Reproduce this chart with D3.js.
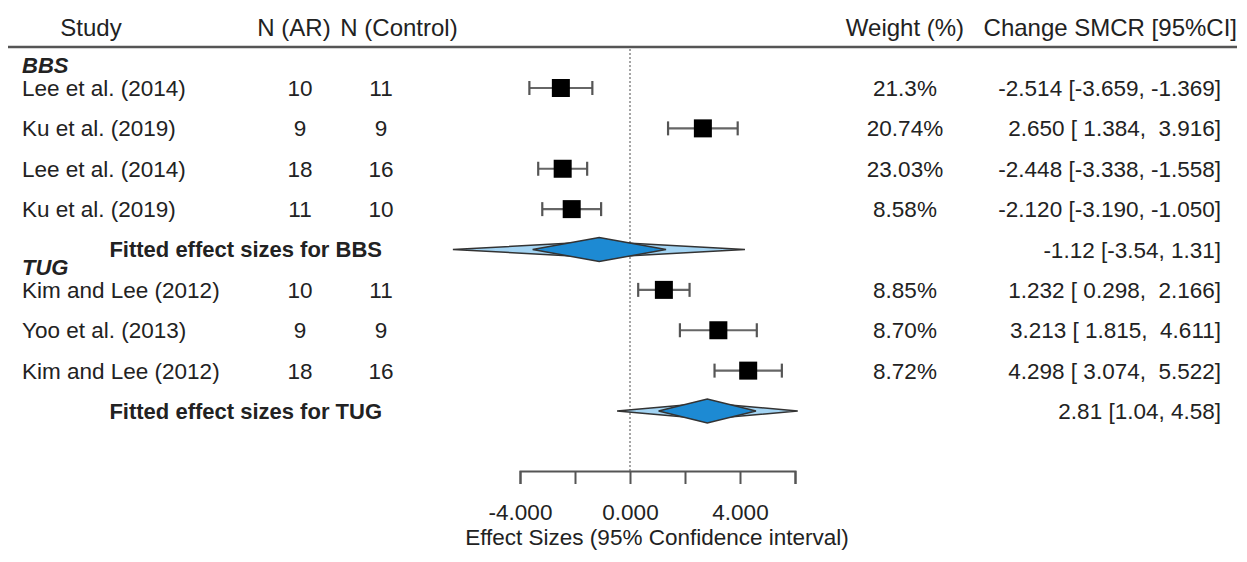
<!DOCTYPE html>
<head>
    <meta charset="utf-8">
    <title>Forest Plot</title>
    <script type="text/javascript" src="https://d3js.org/d3.v7.min.js"></script>
    <style>
        body { margin: 0; background: #fff; }
        text { font-family: "Liberation Sans", Arial, sans-serif; fill: #222; white-space: pre; }
    </style>
</head>
<body>
    <div id="container"></div>

<script>
    //-----------------------------DATA-----------------------------//
    const studies   = ["Lee et al. (2014)", "Ku et al. (2019)", "Lee et al. (2014)", "Ku et al. (2019)",
                       "Kim and Lee (2012)", "Yoo et al. (2013)", "Kim and Lee (2012)"];
    const groups    = ["BBS", "BBS", "BBS", "BBS", "TUG", "TUG", "TUG"];
    const nAR       = [10, 9, 18, 11, 10, 9, 18];
    const nControl  = [11, 9, 16, 10, 11, 9, 16];
    const estimates = [-2.514, 2.650, -2.448, -2.120, 1.232, 3.213, 4.298];
    const ciLower   = [-3.659, 1.384, -3.338, -3.190, 0.298, 1.815, 3.074];
    const ciUpper   = [-1.369, 3.916, -1.558, -1.050, 2.166, 4.611, 5.522];
    const weights   = ["21.3%", "20.74%", "23.03%", "8.58%", "8.85%", "8.70%", "8.72%"];

    // fitted (random effects) per subgroup
    const pooledGroups = ["BBS", "TUG"];
    const pooledEst    = [-1.12, 2.81];
    const pooledLower  = [-3.54, 1.04];
    const pooledUpper  = [1.31, 4.58];
    const predLower    = [-6.44, -0.47];
    const predUpper    = [4.18, 6.10];

    const xTicks = [-4, -2, 0, 2, 4, 6];

    //-----------------------------SVG------------------------------//
    const width = 1247;
    const height = 562;
    const bodySize = "22.5px";

    const svg = d3.select("div#container").append("svg")
        .attr("width", width)
        .attr("height", height);

    // row order: each group's studies, then its fitted line
    const rows = [];
    pooledGroups.forEach(function(g, gi) {
        groups.forEach(function(sg, i) {
            if (sg === g) rows.push({type: "study", i: i});
        });
        rows.push({type: "pooled", i: gi});
    });

    //----------------------------SCALES----------------------------//
    const xScale = d3.scaleLinear().domain([-4, 6]).range([520, 795]);
    const yScale = d3.scaleLinear().domain([0, rows.length - 1]).range([88, 411]);

    const fmt3 = function(v) { return v.toFixed(3); };
    const pad3 = function(v) { return v < 0 ? v.toFixed(3) : " " + v.toFixed(3); };

    //---------------------------HEADER-----------------------------//
    const header = svg.append("g").style("font-size", "24px");
    header.append("text").attr("x", 91).attr("y", 27).attr("dy", "0.36em").attr("text-anchor", "middle").text("Study");
    header.append("text").attr("x", 294).attr("y", 27).attr("dy", "0.36em").attr("text-anchor", "middle").text("N (AR)");
    header.append("text").attr("x", 399).attr("y", 27).attr("dy", "0.36em").attr("text-anchor", "middle").text("N (Control)");
    header.append("text").attr("x", 905).attr("y", 27).attr("dy", "0.36em").attr("text-anchor", "middle").text("Weight (%)");
    header.append("text").attr("x", 1237).attr("y", 27).attr("dy", "0.36em").attr("text-anchor", "end").text("Change SMCR [95%CI]");

    svg.append("line")
        .attr("x1", 8).attr("x2", 1237)
        .attr("y1", 47).attr("y2", 47)
        .attr("stroke", "#555").attr("stroke-width", 2.5);

    //--------------------------ZERO LINE---------------------------//
    svg.append("line")
        .attr("x1", xScale(0)).attr("x2", xScale(0))
        .attr("y1", 49).attr("y2", 471)
        .attr("stroke", "#888").attr("stroke-width", 1.5)
        .attr("stroke-dasharray", "2,2");

    //----------------------------AXIS------------------------------//
    const xaxis = d3.axisBottom(xScale)
        .tickValues(xTicks)
        .tickSizeInner(13)
        .tickSizeOuter(13)
        .tickPadding(20)
        .tickFormat(function(d) { return d % 4 === 0 ? d.toFixed(3) : ""; });

    const axisG = svg.append("g")
        .attr("transform", "translate(0,471)")
        .call(xaxis);
    axisG.select(".domain").attr("stroke", "#555").attr("stroke-width", 2);
    axisG.selectAll(".tick line").attr("stroke", "#555").attr("stroke-width", 2);
    axisG.selectAll(".tick text")
        .style("font-size", bodySize)
        .attr("fill", "#222")
        .style("font-family", "'Liberation Sans', Arial, sans-serif");

    svg.append("text")
        .attr("x", 657).attr("y", 537).attr("dy", "0.36em")
        .attr("text-anchor", "middle")
        .style("font-size", bodySize)
        .text("Effect Sizes (95% Confidence interval)");

    //---------------------------GROUPS-----------------------------//
    pooledGroups.forEach(function(g) {
        const first = rows.findIndex(function(r) { return r.type === "study" && groups[r.i] === g; });
        svg.append("text")
            .attr("x", 22).attr("y", yScale(first) - 23).attr("dy", "0.36em")
            .style("font-size", "22px").style("font-weight", "bold").style("font-style", "italic")
            .attr("fill", "#111")
            .text(g);
    });

    //----------------------------ROWS------------------------------//
    const studyRows = rows.map(function(r, k) { return {r: r, k: k}; })
        .filter(function(d) { return d.r.type === "study"; });
    const pooledRows = rows.map(function(r, k) { return {r: r, k: k}; })
        .filter(function(d) { return d.r.type === "pooled"; });

    const sg = svg.selectAll("g.study")
        .data(studyRows)
        .enter()
        .append("g")
        .attr("class", "study")
        .style("font-size", bodySize);

    sg.append("text").attr("x", 22).attr("y", function(d) { return yScale(d.k); }).attr("dy", "0.36em")
        .text(function(d) { return studies[d.r.i]; });
    sg.append("text").attr("x", 300).attr("y", function(d) { return yScale(d.k); }).attr("dy", "0.36em")
        .attr("text-anchor", "middle")
        .text(function(d) { return nAR[d.r.i]; });
    sg.append("text").attr("x", 381).attr("y", function(d) { return yScale(d.k); }).attr("dy", "0.36em")
        .attr("text-anchor", "middle")
        .text(function(d) { return nControl[d.r.i]; });
    sg.append("text").attr("x", 905).attr("y", function(d) { return yScale(d.k); }).attr("dy", "0.36em")
        .attr("text-anchor", "middle")
        .text(function(d) { return weights[d.r.i]; });
    sg.append("text").attr("x", 1221).attr("y", function(d) { return yScale(d.k); }).attr("dy", "0.36em")
        .attr("text-anchor", "end")
        .text(function(d) {
            const i = d.r.i;
            return fmt3(estimates[i]) + " [" + pad3(ciLower[i]) + ", " + pad3(ciUpper[i]) + "]";
        });

    // confidence intervals
    sg.append("line")
        .attr("x1", function(d) { return xScale(ciLower[d.r.i]); })
        .attr("x2", function(d) { return xScale(ciUpper[d.r.i]); })
        .attr("y1", function(d) { return yScale(d.k); })
        .attr("y2", function(d) { return yScale(d.k); })
        .attr("stroke", "#666").attr("stroke-width", 2.2);
    [ciLower, ciUpper].forEach(function(arr) {
        sg.append("line")
            .attr("x1", function(d) { return xScale(arr[d.r.i]); })
            .attr("x2", function(d) { return xScale(arr[d.r.i]); })
            .attr("y1", function(d) { return yScale(d.k) - 7; })
            .attr("y2", function(d) { return yScale(d.k) + 7; })
            .attr("stroke", "#555").attr("stroke-width", 2.2);
    });

    // point estimates
    sg.append("rect")
        .attr("x", function(d) { return xScale(estimates[d.r.i]) - 9; })
        .attr("y", function(d) { return yScale(d.k) - 9; })
        .attr("width", 18).attr("height", 18)
        .attr("fill", "#000");

    //---------------------------FITTED-----------------------------//
    const pg = svg.selectAll("g.pooled")
        .data(pooledRows)
        .enter()
        .append("g")
        .attr("class", "pooled");

    pg.append("text").attr("x", 382).attr("y", function(d) { return yScale(d.k); }).attr("dy", "0.36em")
        .attr("text-anchor", "end")
        .style("font-size", "22px").style("font-weight", "bold")
        .attr("fill", "#111")
        .text(function(d) { return "Fitted effect sizes for " + pooledGroups[d.r.i]; });
    pg.append("text").attr("x", 1221).attr("y", function(d) { return yScale(d.k); }).attr("dy", "0.36em")
        .attr("text-anchor", "end")
        .style("font-size", bodySize)
        .text(function(d) {
            const i = d.r.i;
            return pooledEst[i].toFixed(2) + " [" + pooledLower[i].toFixed(2) + ", " + pooledUpper[i].toFixed(2) + "]";
        });

    const diamond = function(lo, mid, hi, y, h) {
        return "M" + xScale(lo) + "," + y +
               "L" + xScale(mid) + "," + (y - h) +
               "L" + xScale(hi) + "," + y +
               "L" + xScale(mid) + "," + (y + h) + "Z";
    };

    pg.append("path")
        .attr("d", function(d) {
            const i = d.r.i;
            return diamond(predLower[i], pooledEst[i], predUpper[i], yScale(d.k), 8);
        })
        .attr("fill", "#a3d4f3").attr("stroke", "#333").attr("stroke-width", 1.5);
    pg.append("path")
        .attr("d", function(d) {
            const i = d.r.i;
            return diamond(pooledLower[i], pooledEst[i], pooledUpper[i], yScale(d.k), 12);
        })
        .attr("fill", "#1d8ad3").attr("stroke", "#333").attr("stroke-width", 1.5);
</script>
</body>
